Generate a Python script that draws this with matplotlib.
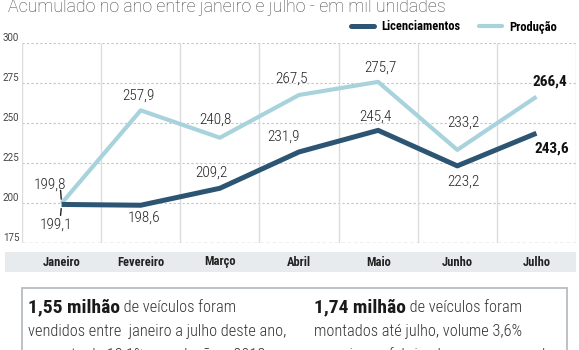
import matplotlib
matplotlib.use("Agg")
import matplotlib.pyplot as plt
from matplotlib import font_manager as fm
from matplotlib.patches import Rectangle
import numpy as np

# dados (mil unidades)
months = ['Janeiro', 'Fevereiro', 'Março', 'Abril', 'Maio', 'Junho', 'Julho']
licenciamentos = [199.1, 198.6, 209.2, 231.9, 245.4, 223.2, 243.6]
producao = [199.8, 257.9, 240.8, 267.5, 275.7, 233.2, 266.4]
yticks = [175, 200, 225, 250, 275, 300]

# deslocamento dos rótulos em pixels (dx, dy para baixo)
off_prod = [(-12, -19), (-2, -15), (-4, -18), (-8, -16), (2, -14), (6, -27), (13, -15)]
off_lic = [(-6, 20), (3, 12), (-8, -16), (-15, -15), (-3, -14), (6, 16), (15, 15)]

DARK = '#2b5572'
LIGHT = '#a8d3dc'
PX = 0.72  # pontos por pixel (dpi 100)


def pick(cands):
    have = {f.name for f in fm.fontManager.ttflist}
    for c in cands:
        if c in have:
            return [c, 'DejaVu Sans']
    return ['DejaVu Sans']


NARROW = pick(['Roboto Condensed', 'Liberation Sans Narrow', 'Archivo Narrow', 'Asap Condensed'])
PLAIN = pick(['Roboto', 'Liberation Sans'])

fig = plt.figure(figsize=(5.79, 3.5), dpi=100)
W, H = 579, 350
ax = fig.add_axes([22 / W, 1 - 243 / H, 554 / W, 200 / H])
ax.set_zorder(2)

x = np.arange(len(months))
ax.set_xlim(-0.5, len(months) - 0.5)
ax.set_ylim(175, 300)

# grade
for v in yticks[1:]:
    ax.axhline(v, color='#c4c4c4', lw=0.8, ls=(0, (2, 2)), zorder=0)
ax.axhline(175, color='#8a8a8a', lw=0.9, ls=(0, (3, 2)), zorder=0)
ax.vlines(np.arange(-0.5, len(months)), 175, 300, color='#dcdcdc', lw=1, zorder=0)

for s in ax.spines.values():
    s.set_visible(False)
ax.set_xticks([])
ax.set_yticks(yticks)
ax.tick_params(axis='y', length=0, pad=2, labelsize=7, labelcolor='#444')
for t in ax.get_yticklabels():
    t.set_va('bottom')
    t.set_family(PLAIN)

lp, = ax.plot(x, producao, color=LIGHT, lw=3.0, solid_joinstyle='round',
              solid_capstyle='butt', label='Produção', zorder=2)
ll, = ax.plot(x, licenciamentos, color=DARK, lw=3.6, solid_joinstyle='round',
              solid_capstyle='butt', label='Licenciamentos', zorder=3)


# rótulos de valores
def fmt(v):
    return f'{v:.1f}'.replace('.', ',')


for i, (vp, vl) in enumerate(zip(producao, licenciamentos)):
    last = i == len(months) - 1
    w = 'bold' if last else 'light'
    c = '#111' if last else '#222'
    dx, dy = off_prod[i]
    ax.annotate(fmt(vp), (i, vp), xytext=(dx * PX, -dy * PX), textcoords='offset points',
                ha='center', va='center', fontsize=11, family=NARROW, weight=w, color=c)
    dx, dy = off_lic[i]
    ax.annotate(fmt(vl), (i, vl), xytext=(dx * PX, -dy * PX), textcoords='offset points',
                ha='center', va='center', fontsize=11, family=NARROW, weight=w, color=c)

# pequenos traços em janeiro
ax.annotate('', xy=(0, producao[0]), xytext=(-1 * PX, 13 * PX), textcoords='offset points',
            arrowprops=dict(arrowstyle='-', color='#222', lw=1, shrinkA=0, shrinkB=3))
ax.annotate('', xy=(0, licenciamentos[0]), xytext=(-1 * PX, -11 * PX), textcoords='offset points',
            arrowprops=dict(arrowstyle='-', color='#222', lw=1, shrinkA=0, shrinkB=3))

# faixa dos meses
fig.patches.append(Rectangle((5 / W, 1 - 272 / H), 571 / W, 20 / H, transform=fig.transFigure,
                             facecolor='#e8ebed', edgecolor='none', zorder=-1))
for i, m in enumerate(months):
    ax.text(i, -(262 - 243) / 200, m, transform=ax.get_xaxis_transform(), ha='center', va='center',
            fontsize=9, family=NARROW, weight='bold', color='#222')

# legenda
leg = ax.legend(handles=[ll, lp], loc='center right', bbox_to_anchor=((557 - 22) / 554, (243 - 27) / 200),
                ncol=2, frameon=False, borderaxespad=0, borderpad=0, handlelength=1.8,
                handletextpad=0.6, columnspacing=1.5, prop=dict(family=NARROW, weight='bold', size=9))
for h in leg.legend_handles:
    h.set_solid_capstyle('round')

# título (cortado no topo)
fig.text(8 / W, 1 - 12 / H, 'Acumulado no ano entre janeiro e julho - em mil unidades',
         ha='left', va='baseline', fontsize=12.8, color='#444', family=PLAIN, weight='light')

# caixa inferior
fig.patches.append(Rectangle((22 / W, -0.1), 545 / W, 0.1 + (H - 288) / H, transform=fig.transFigure,
                             facecolor='white', edgecolor='#b5bcc0', lw=1.3, zorder=-1))

notes = [
    (28, '1,55 milhão', ' de veículos foram',
     ['vendidos entre  janeiro a julho deste ano,', 'aumento de 12,1% em relação a 2018']),
    (314, '1,74 milhão', ' de veículos foram',
     ['montados até julho, volume 3,6%', 'superior ao fabricado no ano passado']),
]
renderer = fig.canvas.get_renderer()
for x0, big, rest, lines in notes:
    t = fig.text(x0 / W, 1 - 312 / H, big, ha='left', va='baseline', fontsize=14,
                 weight='bold', family=NARROW, color='#1a1a1a')
    bb = t.get_window_extent(renderer)
    fig.text(bb.x1 / W, 1 - 312 / H, rest, ha='left', va='baseline', fontsize=11.8,
             family=NARROW, weight='light', color='#333')
    for k, ln in enumerate(lines):
        fig.text(x0 / W, 1 - (336 + 24 * k) / H, ln, ha='left', va='baseline', fontsize=11.8,
                 family=NARROW, weight='light', color='#333')

fig.savefig('out.png', dpi=100)
